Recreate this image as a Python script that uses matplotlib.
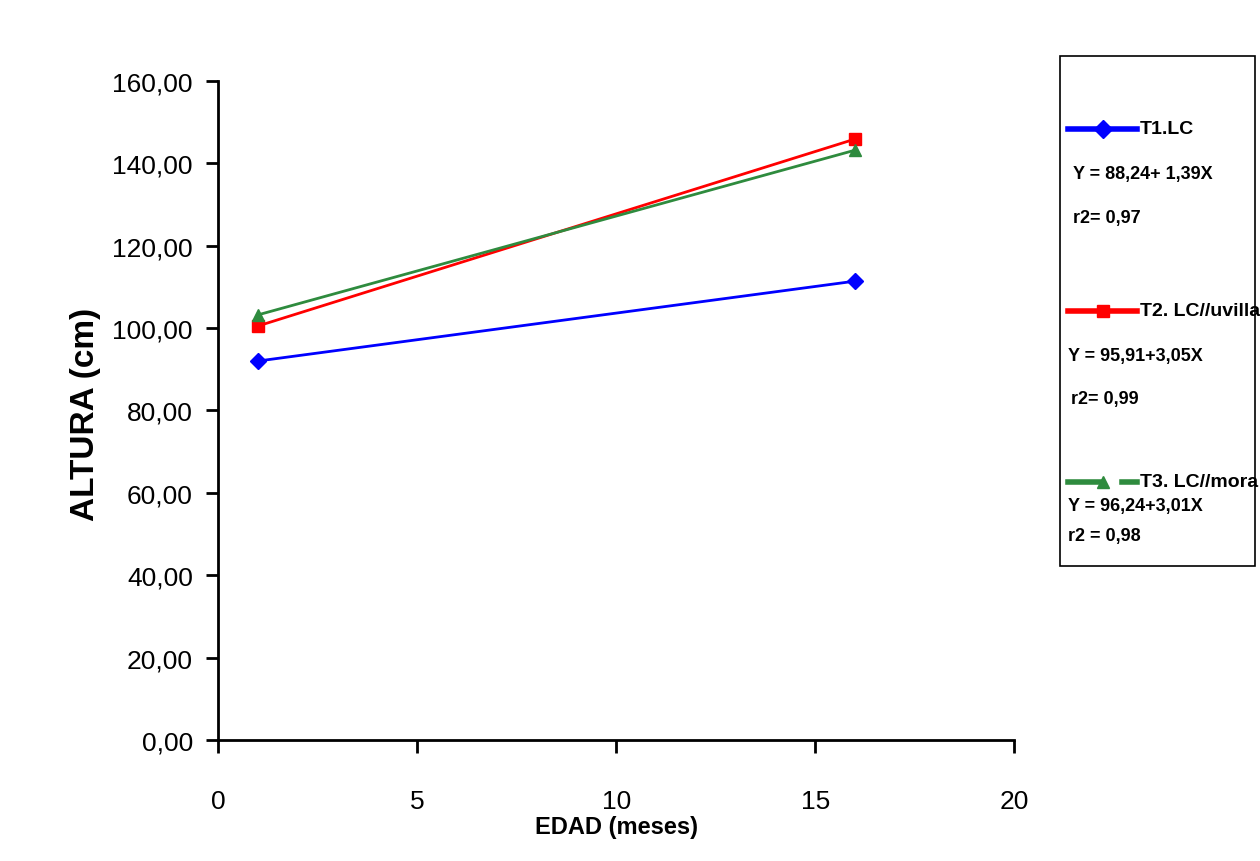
import matplotlib
matplotlib.use("Agg")
import matplotlib.pyplot as plt
from matplotlib.lines import Line2D
from matplotlib.patches import Rectangle
from matplotlib.ticker import FuncFormatter

# data
edad = [1, 16]
t1 = [92.0, 111.4]
t2 = [100.5, 145.9]
t3 = [103.2, 143.2]
series_names = ["T1.LC", "T2. LC//uvilla", "T3. LC//mora"]
ecuaciones = ["Y = 88,24+ 1,39X", "Y = 95,91+3,05X", "Y = 96,24+3,01X"]
r2_text = ["r2= 0,97", "r2= 0,99", "r2 = 0,98"]
colores = ["#0000ff", "#ff0000", "#2e8b3e"]
marcadores = ["D", "s", "^"]

plt.rcParams["font.family"] = ["Liberation Sans Narrow", "Liberation Sans", "DejaVu Sans"]

fig = plt.figure(figsize=(12.6, 8.62), dpi=100)
ax = fig.add_axes([0.173, 0.1404, 0.632, 0.7645])

for ys, c, m in zip([t1, t2, t3], colores, marcadores):
    ax.plot(edad, ys, color=c, lw=2, marker=m, ms=8,
            markeredgecolor=c, markerfacecolor=c)

ax.set_xlim(0, 20)
ax.set_ylim(0, 160)
ax.set_xticks([0, 5, 10, 15, 20])
ax.set_yticks(range(0, 161, 20))
ax.yaxis.set_major_formatter(FuncFormatter(lambda v, p: f"{v:.2f}".replace(".", ",")))
for s in ["top", "right"]:
    ax.spines[s].set_visible(False)
for s in ["left", "bottom"]:
    ax.spines[s].set_linewidth(2)
ax.tick_params(axis="both", direction="out", length=9, width=2, labelsize=19)
ax.tick_params(axis="x", pad=26)
ax.tick_params(axis="y", pad=9)

ax.set_xlabel("EDAD (meses)", fontsize=17, fontweight="bold", labelpad=2)
ax.set_ylabel("ALTURA (cm)", fontsize=24, fontweight="bold")
ax.yaxis.set_label_coords(-0.147, 0.495)

# legend box drawn by hand, in pixel positions of the figure
W, H = 1260.0, 862.0
def fx(px):
    return px / W
def fy(py):
    return 1 - py / H

fig.patches.append(Rectangle((fx(1060), fy(567)), fx(1255) - fx(1060), fy(57) - fy(567),
                             transform=fig.transFigure, fill=False, edgecolor="black", lw=1.2))

leg_y = [130, 312, 483]
eq_y = [175, 357, 507]
r2_y = [218, 400, 536]
eq_x = [1073, 1068, 1068]
r2_x = [1073, 1071, 1068]
for i in range(3):
    c = colores[i]
    if i < 2:
        fig.add_artist(Line2D([fx(1068), fx(1137)], [fy(leg_y[i])] * 2, color=c, lw=4,
                              transform=fig.transFigure))
    else:
        fig.add_artist(Line2D([fx(1068), fx(1100)], [fy(leg_y[i])] * 2, color=c, lw=4,
                              transform=fig.transFigure))
        fig.add_artist(Line2D([fx(1122), fx(1137)], [fy(leg_y[i])] * 2, color=c, lw=4,
                              transform=fig.transFigure))
    fig.add_artist(Line2D([fx(1103)], [fy(leg_y[i])], marker=marcadores[i], ms=9,
                          color=c, transform=fig.transFigure))
    fig.text(fx(1140), fy(leg_y[i]), series_names[i], fontsize=14, fontweight="bold",
             va="center", ha="left")
    fig.text(fx(eq_x[i]), fy(eq_y[i]), ecuaciones[i], fontsize=13, fontweight="bold",
             va="center", ha="left")
    fig.text(fx(r2_x[i]), fy(r2_y[i]), r2_text[i], fontsize=13, fontweight="bold",
             va="center", ha="left")

fig.savefig("out.png", dpi=100, facecolor="white")
